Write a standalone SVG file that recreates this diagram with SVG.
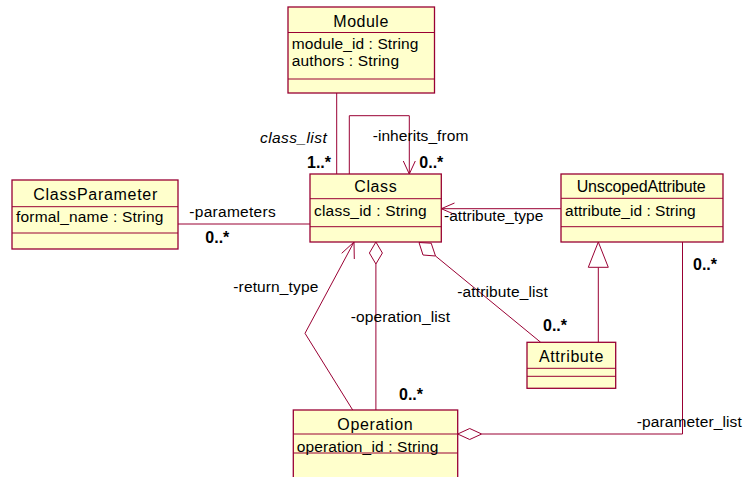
<svg xmlns="http://www.w3.org/2000/svg" width="746" height="477" viewBox="0 0 746 477">
<style>
.box{fill:#FFFFCC;stroke:#990033;stroke-width:1.3}
.sep{stroke:#990033;stroke-width:1}
.ln{fill:none;stroke:#990033;stroke-width:1}
.dia{fill:#FFFFFF;stroke:#990033;stroke-width:1}
text{font-family:"Liberation Sans",Arial,sans-serif;font-size:15.5px;fill:#000}
.h{font-size:16px}
.b{font-weight:bold;font-size:16px}
.i{font-style:italic}
</style>
<rect width="746" height="477" fill="#FFFFFF"/>
<g id="connectors">
  <line class="ln" x1="336.7" y1="93" x2="336.7" y2="174"/>
  <polyline class="ln" points="349.3,174 349.3,115.7 409.3,115.7 409.3,174"/>
  <polyline class="ln" points="403.3,161 409.3,174 415.3,161"/>
  <line class="ln" x1="178" y1="224" x2="310" y2="224"/>
  <line class="ln" x1="561" y1="208.7" x2="441.3" y2="208.7"/>
  <polyline class="ln" points="454.5,203 441.3,208.7 454.5,214.4"/>
  <line class="ln" x1="598.3" y1="267.3" x2="598.3" y2="342.3"/>
  <polygon class="dia" points="598.3,242 588.3,267.3 608.3,267.3"/>
  <polyline class="ln" points="481.7,434 682.5,434 682.5,242"/>
  <polygon class="dia" points="457.7,434 469.7,428.5 481.7,434 469.7,439.5"/>
  <line class="ln" x1="375.9" y1="264" x2="375.9" y2="410"/>
  <polygon class="dia" points="375.9,242 382.4,253 375.9,264 369.4,253"/>
  <line class="ln" x1="435.5" y1="256" x2="540.7" y2="342.3"/>
  <polygon class="dia" points="419,242.5 431.2,243.2 435.5,256 423,255"/>
  <polyline class="ln" points="352.7,410 305,333.3 354,242"/>
  <polyline class="ln" points="341.7,253.3 354,242 354.3,259"/>
</g>
<g id="Module">
  <rect class="box" x="288" y="7" width="146.5" height="86"/>
  <line class="sep" x1="288" y1="32.5" x2="434.5" y2="32.5"/>
  <line class="sep" x1="288" y1="79" x2="434.5" y2="79"/>
  <text class="h" x="333.3" y="26.7" textLength="55" lengthAdjust="spacing">Module</text>
  <text x="291.7" y="49.3" textLength="126.7" lengthAdjust="spacing">module_id : String</text>
  <text x="291.7" y="66.3" textLength="107.3" lengthAdjust="spacing">authors : String</text>
</g>
<g id="Class">
  <rect class="box" x="310" y="174" width="131.3" height="68"/>
  <line class="sep" x1="310" y1="198.7" x2="441.3" y2="198.7"/>
  <line class="sep" x1="310" y1="226.7" x2="441.3" y2="226.7"/>
  <text class="h" x="354.3" y="192.3" textLength="42.4" lengthAdjust="spacing">Class</text>
  <text x="314" y="216" textLength="112.7" lengthAdjust="spacing">class_id : String</text>
</g>
<g id="ClassParameter">
  <rect class="box" x="12" y="180" width="166" height="69"/>
  <line class="sep" x1="12" y1="206.7" x2="178" y2="206.7"/>
  <line class="sep" x1="12" y1="233" x2="178" y2="233"/>
  <text class="h" x="33.3" y="200" textLength="124" lengthAdjust="spacing">ClassParameter</text>
  <text x="16" y="221.7" textLength="147.3" lengthAdjust="spacing">formal_name : String</text>
</g>
<g id="UnscopedAttribute">
  <rect class="box" x="561" y="174" width="162" height="68"/>
  <line class="sep" x1="561" y1="198.3" x2="723" y2="198.3"/>
  <line class="sep" x1="561" y1="226.7" x2="723" y2="226.7"/>
  <text class="h" x="576.7" y="191.7" textLength="129" lengthAdjust="spacing">UnscopedAttribute</text>
  <text x="565" y="216" textLength="130.7" lengthAdjust="spacing">attribute_id : String</text>
</g>
<g id="Attribute">
  <rect class="box" x="527" y="342.3" width="88.7" height="46"/>
  <line class="sep" x1="527" y1="368.3" x2="615.7" y2="368.3"/>
  <line class="sep" x1="527" y1="376.3" x2="615.7" y2="376.3"/>
  <text class="h" x="539" y="361.7" textLength="64.3" lengthAdjust="spacing">Attribute</text>
</g>
<g id="Operation">
  <rect class="box" x="293.3" y="410" width="164.4" height="75"/>
  <line class="sep" x1="293.3" y1="434" x2="457.7" y2="434"/>
  <line class="sep" x1="293.3" y1="453" x2="457.7" y2="453"/>
  <text class="h" x="337.3" y="430" textLength="75.4" lengthAdjust="spacing">Operation</text>
  <text x="296.7" y="452.3" textLength="141.6" lengthAdjust="spacing">operation_id : String</text>
</g>
<g id="labels">
  <text class="i" x="260" y="143" textLength="66.7" lengthAdjust="spacing">class_list</text>
  <text class="b" x="307" y="168">1..*</text>
  <text x="372.7" y="140.7" textLength="95.6" lengthAdjust="spacing">-inherits_from</text>
  <text class="b" x="419.3" y="168">0..*</text>
  <text x="189.3" y="216.7" textLength="86.4" lengthAdjust="spacing">-parameters</text>
  <text class="b" x="205.3" y="242.7">0..*</text>
  <text x="444" y="221" textLength="99.3" lengthAdjust="spacing">-attribute_type</text>
  <text x="233.3" y="291.7" textLength="85" lengthAdjust="spacing">-return_type</text>
  <text x="350.7" y="321.7" textLength="99.3" lengthAdjust="spacing">-operation_list</text>
  <text x="457.3" y="297.3" textLength="90.4" lengthAdjust="spacing">-attribute_list</text>
  <text class="b" x="543" y="330.7">0..*</text>
  <text class="b" x="693" y="270">0..*</text>
  <text class="b" x="399" y="400">0..*</text>
  <text x="636.7" y="426.5" textLength="105" lengthAdjust="spacing">-parameter_list</text>
</g>
</svg>
